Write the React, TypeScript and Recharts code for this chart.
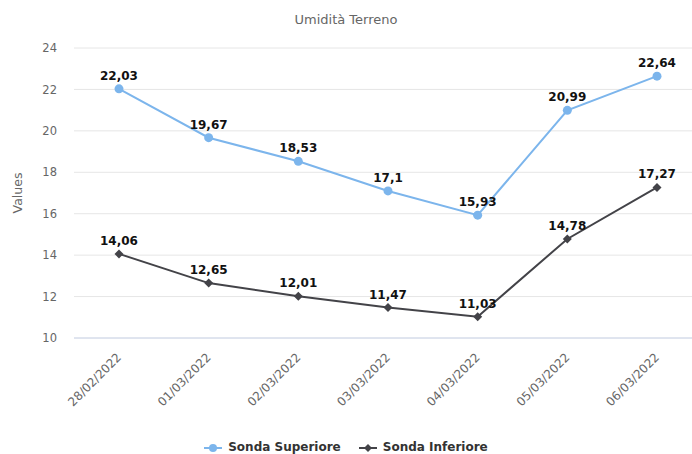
import { LineChart, Line, XAxis, YAxis, CartesianGrid, Legend, LabelList } from 'recharts';

const dates = ['28/02/2022', '01/03/2022', '02/03/2022', '03/03/2022', '04/03/2022', '05/03/2022', '06/03/2022'];
const sondaSuperiore = [22.03, 19.67, 18.53, 17.1, 15.93, 20.99, 22.64];
const sondaInferiore = [14.06, 12.65, 12.01, 11.47, 11.03, 14.78, 17.27];
const yTicks = [10, 12, 14, 16, 18, 20, 22, 24];

const BLUE = '#7cb5ec';
const DARK = '#434348';
const FONT = '"DejaVu Sans", Verdana, sans-serif';

const data = dates.map((d, i) => ({
  date: d,
  superiore: sondaSuperiore[i],
  inferiore: sondaInferiore[i],
}));

const fmt = (v: any) => String(v).replace('.', ',');

const Diamond = (props: any) => {
  const { cx, cy } = props;
  if (cx == null || cy == null) return null;
  const r = 4.5;
  return (
    <polygon
      points={`${cx},${cy - r} ${cx + r},${cy} ${cx},${cy + r} ${cx - r},${cy}`}
      fill={DARK}
    />
  );
};

const XTick = (props: any) => {
  const { x, y, payload } = props;
  return (
    <text
      x={x + 3}
      y={y + 12}
      transform={`rotate(-45, ${x + 3}, ${y + 12})`}
      textAnchor="end"
      fill="#666"
      fontSize={12}
      fontFamily={FONT}
    >
      {payload.value}
    </text>
  );
};

const LegendIcon = ({ color, diamond }: { color: string; diamond?: boolean }) => (
  <svg width={18} height={12} style={{ marginRight: 6, verticalAlign: 'middle' }}>
    <line x1={0} y1={6} x2={18} y2={6} stroke={color} strokeWidth={2} />
    {diamond ? (
      <polygon points="9,2 13,6 9,10 5,6" fill={color} />
    ) : (
      <circle cx={9} cy={6} r={4} fill={color} />
    )}
  </svg>
);

const renderLegend = () => (
  <div
    style={{
      display: 'flex',
      justifyContent: 'center',
      fontFamily: FONT,
      fontSize: 12,
      fontWeight: 'bold',
      color: '#333',
    }}
  >
    <span style={{ marginRight: 18 }}>
      <LegendIcon color={BLUE} />
      Sonda Superiore
    </span>
    <span>
      <LegendIcon color={DARK} diamond />
      Sonda Inferiore
    </span>
  </div>
);

export default function App() {
  return (
    <div style={{ position: 'absolute', left: 0, top: 0, width: 692, height: 454, background: '#fff' }}>
      <div
        style={{
          position: 'absolute',
          top: 12,
          width: 692,
          textAlign: 'center',
          fontFamily: FONT,
          fontSize: 13,
          color: '#666',
        }}
      >
        Umidità Terreno
      </div>
      <LineChart
        width={692}
        height={454}
        data={data}
        margin={{ top: 48, right: 0, bottom: 0, left: 0 }}
      >
        <CartesianGrid vertical={false} stroke="#e6e6e6" />
        <XAxis
          dataKey="date"
          height={96}
          padding={{ left: 45, right: 35 }}
          tick={<XTick />}
          tickLine={false}
          axisLine={{ stroke: '#ccd6eb' }}
          interval={0}
        />
        <YAxis
          width={74}
          domain={[10, 24]}
          ticks={yTicks}
          interval={0}
          axisLine={false}
          tickLine={false}
          tickSize={0}
          tickMargin={17}
          tick={{ fill: '#666', fontSize: 11.5, fontFamily: FONT }}
          label={({ viewBox }: any) => (
            <text
              x={viewBox.x + 22}
              y={viewBox.y + viewBox.height / 2}
              transform={`rotate(-90, ${viewBox.x + 22}, ${viewBox.y + viewBox.height / 2})`}
              textAnchor="middle"
              fill="#666"
              fontSize={12.5}
              fontFamily={FONT}
            >
              Values
            </text>
          )}
        />
        <Legend verticalAlign="bottom" height={20} content={renderLegend} wrapperStyle={{ bottom: -6 }} />
        <Line
          type="linear"
          dataKey="superiore"
          stroke={BLUE}
          strokeWidth={2}
          dot={{ r: 4.5, fill: BLUE, stroke: BLUE, strokeWidth: 0 }}
          isAnimationActive={false}
        >
          <LabelList
            dataKey="superiore"
            position="top"
            offset={9}
            formatter={fmt}
            style={{ fill: '#111', fontSize: 12, fontWeight: 'bold', fontFamily: FONT }}
          />
        </Line>
        <Line
          type="linear"
          dataKey="inferiore"
          stroke={DARK}
          strokeWidth={2}
          dot={<Diamond />}
          isAnimationActive={false}
        >
          <LabelList
            dataKey="inferiore"
            position="top"
            offset={9}
            formatter={fmt}
            style={{ fill: '#111', fontSize: 12, fontWeight: 'bold', fontFamily: FONT }}
          />
        </Line>
      </LineChart>
    </div>
  );
}
